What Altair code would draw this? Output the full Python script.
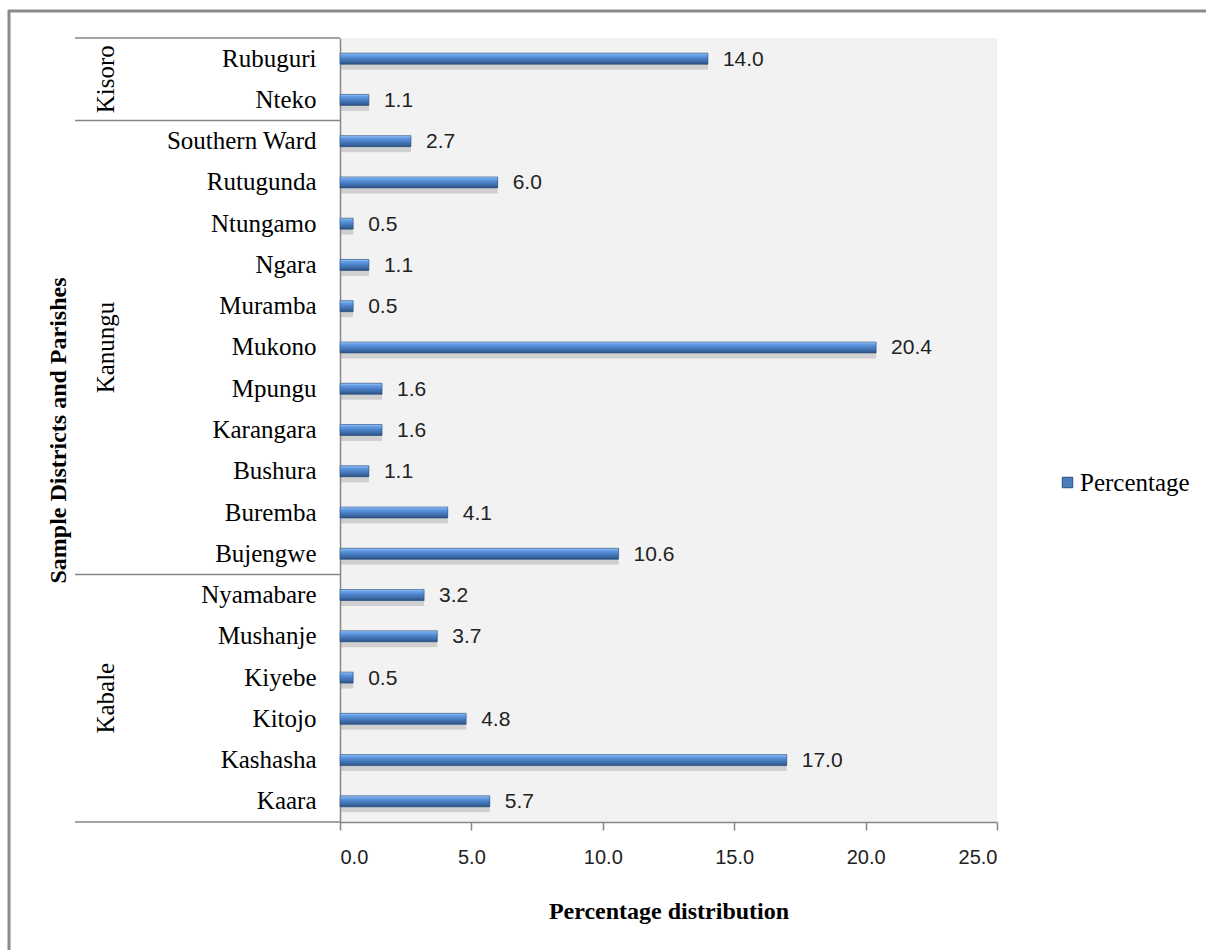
import altair as alt
import pandas as pd

# Parishes from top to bottom, their district and percentage share
parishes = ["Rubuguri", "Nteko", "Southern Ward", "Rutugunda", "Ntungamo", "Ngara",
            "Muramba", "Mukono", "Mpungu", "Karangara", "Bushura", "Buremba",
            "Bujengwe", "Nyamabare", "Mushanje", "Kiyebe", "Kitojo", "Kashasha", "Kaara"]
districts = ["Kisoro", "Kisoro", "Kanungu", "Kanungu", "Kanungu", "Kanungu",
             "Kanungu", "Kanungu", "Kanungu", "Kanungu", "Kanungu", "Kanungu",
             "Kanungu", "Kabale", "Kabale", "Kabale", "Kabale", "Kabale", "Kabale"]
percentages = [14.0, 1.1, 2.7, 6.0, 0.5, 1.1, 0.5, 20.4, 1.6, 1.6, 1.1, 4.1,
               10.6, 3.2, 3.7, 0.5, 4.8, 17.0, 5.7]
x_ticks = [0, 5, 10, 15, 20, 25]

df = pd.DataFrame({"parish": parishes, "district": districts,
                   "value": percentages, "series": "Percentage"})

SERIF = "Liberation Serif"
SANS = "Liberation Sans"
GRID_GRAY = "#868686"

y_scale = alt.Scale(paddingInner=0, paddingOuter=0)
x_scale = alt.Scale(domain=[0, 25], nice=False)

y_axis = alt.Axis(title="Sample Districts and Parishes", titleFont=SERIF,
                  titleFontSize=24, titleFontWeight="bold", titleColor="black",
                  titleAngle=-90, titleX=-282, titleY=392, titleBaseline="middle",
                  titleAlign="center",
                  labelFont=SERIF, labelFontSize=25, labelColor="black",
                  labelPadding=24, ticks=False, domainColor=GRID_GRAY,
                  domainWidth=1.5, grid=False)

x_axis = alt.Axis(title="Percentage distribution", titleFont=SERIF,
                  titleFontSize=24, titleFontWeight="bold", titleColor="black",
                  titleY=77, titleBaseline="top",
                  values=x_ticks, format=".1f", labelFont=SANS, labelFontSize=20,
                  labelColor="#222222", labelPadding=17, tickSize=8,
                  tickColor=GRID_GRAY, tickWidth=1.5, domainColor=GRID_GRAY,
                  domainWidth=1.5, grid=False)


def y_enc(band=0.5):
    return alt.Y("parish:N", sort=parishes, scale=y_scale, bandPosition=band,
                 axis=y_axis)


def x_enc():
    return alt.X("value:Q", scale=x_scale, axis=x_axis)


base = alt.Chart(df)

# solid layer carrying the legend entry
solid = base.mark_bar(size=11).encode(
    x=x_enc(),
    y=y_enc(),
    color=alt.Color("series:N", scale=alt.Scale(range=["#4a7ebd"]),
                    legend=alt.Legend(title=None, orient="none", legendX=715,
                                      legendY=432, symbolType="square",
                                      symbolSize=110, symbolStrokeColor="#2a4d78",
                                      symbolStrokeWidth=1, labelFont=SERIF,
                                      labelFontSize=25, labelColor="black",
                                      labelOffset=0)),
)

# soft drop shadow under each bar
shadow = base.mark_bar(size=8, yOffset=7, color="#8a8a8a", opacity=0.32).encode(
    x=x_enc(), y=y_enc())

# bevelled bar face
bar_gradient = alt.LinearGradient(
    gradient="linear", x1=0, x2=0, y1=0, y2=1,
    stops=[alt.GradientStop(color="#a9cdf5", offset=0),
           alt.GradientStop(color="#66a0e8", offset=0.18),
           alt.GradientStop(color="#4a80c6", offset=0.5),
           alt.GradientStop(color="#3a68a2", offset=0.8),
           alt.GradientStop(color="#2a4c7a", offset=1)])
bars = base.mark_bar(size=11, color=bar_gradient, stroke="#2f5685",
                     strokeWidth=0.6).encode(x=x_enc(), y=y_enc())

value_labels = base.mark_text(align="left", baseline="middle", dx=15, dy=1,
                              font=SANS, fontSize=21, color="#222222").encode(
    x=x_enc(),
    y=y_enc(),
    text=alt.Text("value:Q", format=".1f"),
)

# horizontal separators between district groups
group_tops = ["Rubuguri", "Southern Ward", "Nyamabare"]
sep_df = pd.DataFrame({"parish": group_tops})
separators = alt.Chart(sep_df).mark_rule(color=GRID_GRAY, strokeWidth=1.5).encode(
    x=alt.value(-265), x2=alt.value(0), y=y_enc(band=0))
bottom_df = pd.DataFrame({"parish": [parishes[-1]]})
bottom_sep = alt.Chart(bottom_df).mark_rule(color=GRID_GRAY, strokeWidth=1.5).encode(
    x=alt.value(-265), x2=alt.value(0), y=y_enc(band=1))

# district names, centred on their group of parishes
district_names = ["Kisoro", "Kanungu", "Kabale"]
district_anchor = ["Nteko", "Mukono", "Kitojo"]
district_band = [0, 0.5, 0]
district_layers = []
for name, anchor, band in zip(district_names, district_anchor, district_band):
    d = pd.DataFrame({"parish": [anchor], "district": [name]})
    district_layers.append(
        alt.Chart(d).mark_text(angle=270, align="center", baseline="middle",
                               font=SERIF, fontSize=25, color="black").encode(
            x=alt.value(-234), y=y_enc(band=band), text="district:N"))

# outer frame of the figure
frame_df = pd.DataFrame({"k": [0]})
frame_top = alt.Chart(frame_df).mark_rule(color="#8a8a8a", strokeWidth=3).encode(
    x=alt.value(-332), x2=alt.value(870), y=alt.value(-27))
frame_left = alt.Chart(frame_df).mark_rule(color="#8a8a8a", strokeWidth=3).encode(
    x=alt.value(-331), y=alt.value(-28), y2=alt.value(915))

chart = alt.layer(
    solid, shadow, bars, value_labels, separators, bottom_sep,
    *district_layers, frame_top, frame_left
).properties(
    width=657, height=784,
    autosize=alt.AutoSizeParams(type="none"),
    padding={"left": 340, "top": 38, "right": 209, "bottom": 128},
    background="white",
).configure_view(
    fill="#f2f2f2", stroke=None
)

chart.save("out.html", embed_options={"renderer": "svg", "actions": False})
